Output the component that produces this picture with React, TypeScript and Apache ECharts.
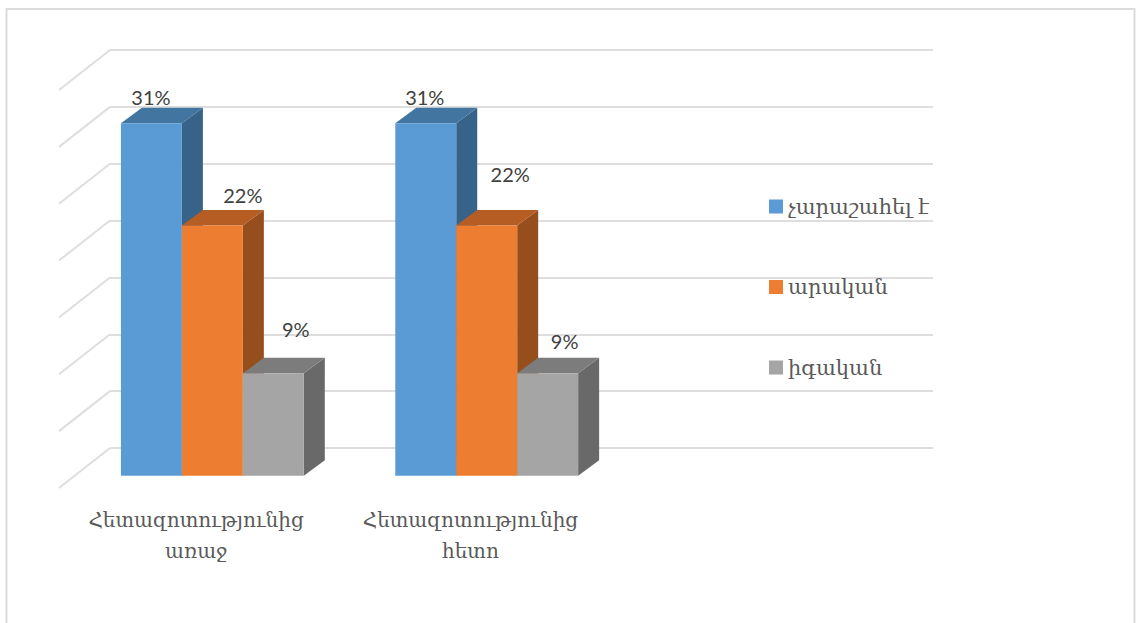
import React, { useEffect, useRef } from "react";
import * as echarts from "echarts";

const categories = ["Հետազոտությունից\nառաջ", "Հետազոտությունից\nհետո", ""];
const seriesNames = ["չարաշահել է", "արական", "իգական"];
const firstValues = [31, 31];
const secondValues = [22, 22];
const thirdValues = [9, 9];
const tickValues = [0, 5, 10, 15, 20, 25, 30, 35];

const frontColors = ["#5b9bd5", "#ed7d31", "#a5a5a5"];
const topColors = ["#4375a1", "#b55d22", "#7c7c7c"];
const sideColors = ["#386388", "#964f1c", "#696969"];

const TEXT_FONT = "DejaVu Serif";
const LABEL_FONT = "Lato";
const GRID_COLOR = "#dedede";

// Projection of the 3D box: the back wall is the cartesian grid, bars stand in front of it.
const BAR_SHIFT_X = -34.8;
const BAR_SHIFT_Y = 27.7;
const DEPTH_X = 21;
const DEPTH_Y = -15.5;
const WALL_X = -51;
const WALL_Y = 40;
const BAR_SHARE = 0.2222;

// Hand-placed data labels, per group and series, relative to each bar's top centre.
const labelNudges = [
  [[-0.5, -26.5], [-1, -26.5]],
  [[30.5, -31], [23.5, -52]],
  [[22.5, -44], [17, -32]],
];

function barRenderer(seriesIndex: number) {
  return (params: any, api: any) => {
    const cat = api.value(0);
    const val = api.value(1);
    const band = api.size([1, 0])[0];
    const w = band * BAR_SHARE;
    const center = api.coord([cat, val]);
    const base = api.coord([cat, 0]);
    const x0 = center[0] + BAR_SHIFT_X + (seriesIndex - 1.5) * w;
    const x1 = x0 + w;
    const yTop = center[1] + BAR_SHIFT_Y;
    const yBase = base[1] + BAR_SHIFT_Y;
    const nudge = labelNudges[seriesIndex][params.dataIndex];
    return {
      type: "group",
      children: [
        {
          type: "polygon",
          shape: {
            points: [
              [x1, yTop],
              [x1 + DEPTH_X, yTop + DEPTH_Y],
              [x1 + DEPTH_X, yBase + DEPTH_Y],
              [x1, yBase],
            ],
          },
          style: { fill: sideColors[seriesIndex] },
        },
        {
          type: "polygon",
          shape: {
            points: [
              [x0, yTop],
              [x0 + DEPTH_X, yTop + DEPTH_Y],
              [x1 + DEPTH_X, yTop + DEPTH_Y],
              [x1, yTop],
            ],
          },
          style: { fill: topColors[seriesIndex] },
        },
        {
          type: "rect",
          shape: { x: x0, y: yTop, width: w, height: yBase - yTop },
          style: { fill: frontColors[seriesIndex] },
        },
        {
          type: "text",
          z2: 10,
          style: {
            x: (x0 + x1) / 2 + nudge[0],
            y: yTop + nudge[1],
            text: `${val}%`,
            align: "center",
            verticalAlign: "middle",
            fill: "#404040",
            fontSize: 20,
            fontFamily: LABEL_FONT,
          },
        },
      ],
    };
  };
}

// Side-wall gridlines, running forward from the left end of each horizontal split line.
function wallRenderer(params: any, api: any) {
  const y = api.coord([0, api.value(0)])[1];
  const x = params.coordSys.x;
  return {
    type: "line",
    shape: { x1: x, y1: y, x2: x + WALL_X, y2: y + WALL_Y },
    style: { stroke: GRID_COLOR, lineWidth: 2, fill: "none" },
  };
}

export default function App() {
  const ref = useRef<HTMLDivElement>(null);

  useEffect(() => {
    document.body.style.margin = "0";
    const chart = echarts.init(ref.current!, undefined, { renderer: "svg" });
    const barData = [firstValues, secondValues, thirdValues];
    chart.setOption({
      animation: false,
      backgroundColor: "#ffffff",
      grid: { left: 110, top: 50, width: 823, height: 398, containLabel: false },
      graphic: [
        {
          type: "rect",
          silent: true,
          z: -10,
          shape: { x: 6.5, y: 9, width: 1128, height: 660 },
          style: { fill: "none", stroke: "#dcdcdc", lineWidth: 2 },
        },
      ],
      legend: {
        data: seriesNames,
        orient: "vertical",
        left: 769,
        top: 196,
        padding: 0,
        itemWidth: 14,
        itemHeight: 14,
        itemGap: 59.5,
        icon: "rect",
        textStyle: {
          color: "#595959",
          fontSize: 21,
          fontFamily: TEXT_FONT,
        },
      },
      xAxis: {
        type: "category",
        data: categories,
        axisLine: { show: false },
        axisTick: { show: false },
        splitLine: { show: false },
        axisLabel: {
          interval: 0,
          margin: 56,
          color: "#595959",
          fontSize: 20,
          lineHeight: 31,
          fontFamily: TEXT_FONT,
          padding: [0, 102, 0, 0],
        },
      },
      yAxis: {
        type: "value",
        min: 0,
        max: 35,
        interval: 5,
        axisLine: { show: false },
        axisTick: { show: false },
        axisLabel: { show: false },
        splitLine: { show: true, lineStyle: { color: GRID_COLOR, width: 2 } },
      },
      series: [
        {
          type: "custom",
          name: "wall",
          silent: true,
          data: tickValues.map((v) => [v]),
          encode: { y: 0 },
          renderItem: wallRenderer,
          z: 1,
        },
        ...seriesNames.map((name, i) => ({
          type: "custom",
          name,
          data: barData[i].map((v, c) => [c, v]),
          encode: { x: 0, y: 1 },
          renderItem: barRenderer(i),
          itemStyle: { color: frontColors[i] },
          z: 2 + i,
        })),
      ],
    });
    return () => chart.dispose();
  }, []);

  return <div ref={ref} style={{ width: 1139, height: 623 }} />;
}
